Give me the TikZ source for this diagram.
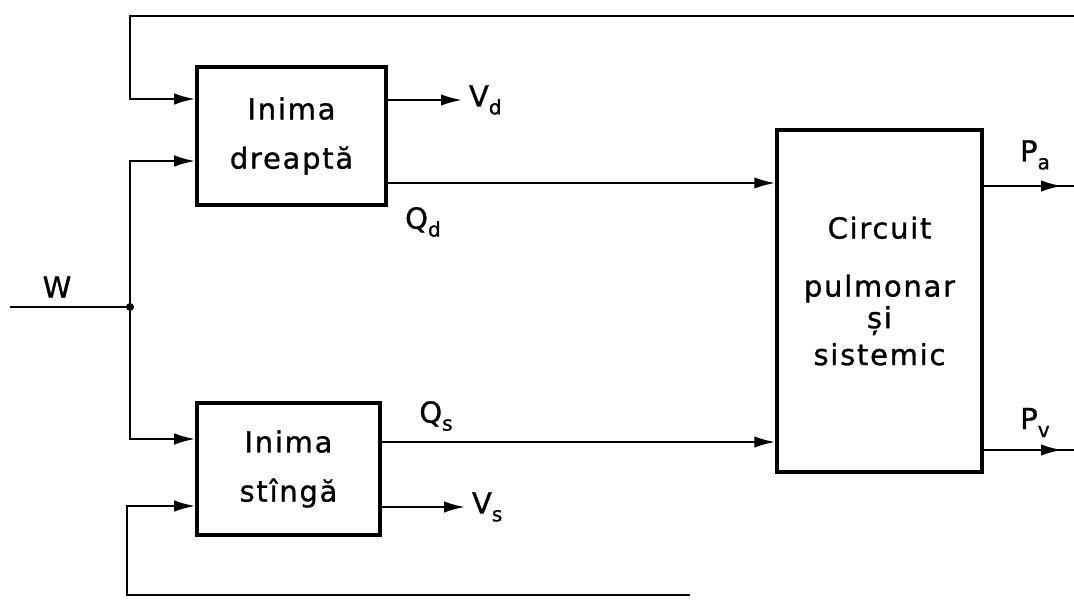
\documentclass[tikz,border=0pt]{standalone}
\usepackage{fontspec}
\setmainfont{DejaVu Sans}[LetterSpace=6,FakeBold=1]
\usetikzlibrary{arrows.meta}
\newcommand\lowidx[1]{\raisebox{-.5ex}{\fontsize{11.5}{11.5}\selectfont#1}}
\begin{document}
\begin{tikzpicture}[>={Latex[length=4.2mm,width=2.3mm]},line width=1.3pt,
    blok/.style={draw,line width=2pt,align=center,inner sep=0pt},
    every node/.style={font=\fontsize{16.5}{28}\selectfont}]
\useasboundingbox (0,0) rectangle (21.48,-12.02);
\node[blok,minimum width=3.78cm,minimum height=2.76cm] (dr) at (5.83,-2.72) {Inima\\dreaptă};
\node[blok,minimum width=3.66cm,minimum height=2.64cm] (st) at (5.77,-9.38) {Inima\\stîngă};
\node[blok,minimum width=4.1cm,minimum height=6.84cm] (circ) at (17.59,-6.02) {};
\node[align=center,font=\fontsize{16.5}{33}\selectfont] (ctext) at ([yshift=.2cm]circ.center)
    {Circuit\\pulmonar\\[-15pt]și\\[-12pt]sistemic};
\coordinate (w) at (0.2,-6.14);
\coordinate (j) at (2.6,-6.14);
\coordinate (tr) at (21.48,-0.32);
\coordinate (tl) at (2.6,-0.32);
\coordinate (br) at (13.8,-11.9);
\coordinate (bl) at (2.54,-11.9);
\coordinate (vd) at (9.24,-2.0);
\coordinate (vs) at (9.3,-10.14);
\coordinate (qd) at ([yshift=-.94cm]dr.east);
\coordinate (qs) at ([yshift=.54cm]st.east);
\coordinate (pa) at (21.24,-3.72);
\coordinate (pae) at (21.48,-3.72);
\coordinate (pv) at (21.24,-9.0);
\coordinate (pve) at (21.48,-9.0);
\draw[->] (tr)--(tl)|-([yshift=.74cm]dr.west);
\draw (w)--(j);
\draw[->] (j)|-([yshift=-.5cm]dr.west);
\draw[->] (j)|-([yshift=.6cm]st.west);
\draw[->] (br)--(bl)|-([yshift=-.74cm]st.west);
\fill (j) circle (.08);
\draw[->] (dr.east|-vd)--(vd)node[right](lvd){V\lowidx{d}};
\draw[->] (st.east|-vs)--(vs)node[right](lvs){V\lowidx{s}};
\draw[->] (qd)--(qd-|circ.west);
\draw[->] (qs)--(qs-|circ.west);
\draw (circ.east|-pa)--(pae);
\draw[->] (circ.east|-pa)--(pa);
\draw (circ.east|-pv)--(pve);
\draw[->] (circ.east|-pv)--(pv);
\node (lw) at (1.14,-5.74) {W};
\node (lqd) at (8.46,-4.44) {Q\lowidx{d}};
\node (lqs) at (8.72,-8.32) {Q\lowidx{s}};
\node (lpa) at (20.7,-3.1) {P\lowidx{a}};
\node (lpv) at (20.7,-8.45) {P\lowidx{v}};
\end{tikzpicture}
\end{document}
